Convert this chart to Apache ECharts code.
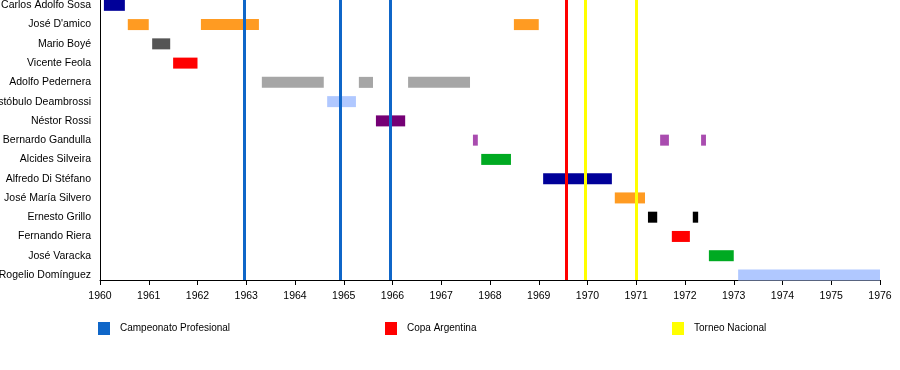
<!DOCTYPE html>
<html>
<head>
<meta charset="utf-8">
<script src="https://cdn.jsdelivr.net/npm/echarts@6/dist/echarts.min.js"></script>
<style>html,body{margin:0;padding:0;background:#fff}#c{width:900px;height:370px}</style>
</head>
<body>
<div id="c"></div>
<script>
// ---- data ----
const people = ["Carlos Adolfo Sosa","José D'amico","Mario Boyé","Vicente Feola","Adolfo Pedernera","Aristóbulo Deambrossi","Néstor Rossi","Bernardo Gandulla","Alcides Silveira","Alfredo Di Stéfano","José María Silvero","Ernesto Grillo","Fernando Riera","José Varacka","Rogelio Domínguez"];
// [person index, start, end]
const periods = [
  [0, 1960.08, 1960.51],
  [1, 1960.57, 1961.00],
  [1, 1962.07, 1963.26],
  [1, 1968.49, 1969.00],
  [2, 1961.07, 1961.44],
  [3, 1961.50, 1962.00],
  [4, 1963.32, 1964.59],
  [4, 1965.31, 1965.60],
  [4, 1966.32, 1967.59],
  [5, 1964.66, 1965.25],
  [6, 1965.66, 1966.26],
  [7, 1967.65, 1967.75],
  [7, 1971.49, 1971.67],
  [7, 1972.33, 1972.43],
  [8, 1967.82, 1968.43],
  [9, 1969.09, 1970.50],
  [10, 1970.56, 1971.18],
  [11, 1971.24, 1971.43],
  [11, 1972.16, 1972.27],
  [12, 1971.73, 1972.10],
  [13, 1972.49, 1973.00],
  [14, 1973.09, 1976.00]
];
const campeonatoProfesional = [1962.96, 1964.92, 1965.95];
const copaArgentina = [1969.56];
const torneoNacional = [1969.96, 1970.99];
const yearMin = 1960, yearMax = 1976;

// ---- styles ----
const personColors = ["#000099","#FF9B22","#555555","#FF0000","#A6A6A6","#B0C8FF","#750075","#A94CAF","#00AA22","#000099","#FF9B22","#000000","#FF0000","#00AA22","#B0C8FF"];
const lineColors = {cp: "#0F66C8", ca: "#FF0000", tn: "#FFFF00"};
const font = "Liberation Sans, Arial, sans-serif";

const chart = echarts.init(document.getElementById('c'), null, {renderer: 'canvas'});

function vline(name, values, color) {
  return {
    name: name, type: 'line', xAxisIndex: 0, yAxisIndex: 0, data: [],
    z: 10, silent: true,
    itemStyle: {color: color}, lineStyle: {color: color},
    markLine: {
      symbol: 'none', silent: true, animation: false,
      label: {show: false},
      lineStyle: {color: color, width: 3, type: 'solid'},
      data: values.map(v => ({xAxis: v}))
    }
  };
}

function legendAt(name, left) {
  return {
    data: [name], left: left, top: 317, icon: 'rect',
    itemWidth: 12, itemHeight: 13, selectedMode: false,
    textStyle: {fontSize: 10, color: '#000', fontFamily: font, padding: [4,0,0,5]}
  };
}

chart.setOption({
  animation: false,
  backgroundColor: '#fff',
  grid: [
    {left: 100, right: 20, top: 0, height: 280, containLabel: false, outerBoundsMode: 'none'},
    {left: 100, right: 20, top: -4.3, height: 288.9, containLabel: false, outerBoundsMode: 'none'}
  ],
  xAxis: [
    {gridIndex: 0, type: 'value', min: yearMin, max: yearMax, interval: 1,
     axisLine: {show: true, lineStyle: {color: '#000', width: 1}},
     axisTick: {show: true, length: 5, lineStyle: {color: '#000'}},
     axisLabel: {fontSize: 10.5, color: '#000', fontFamily: font, margin: 11, formatter: v => String(v)},
     splitLine: {show: false}},
    {gridIndex: 1, type: 'value', min: yearMin, max: yearMax, show: false, splitLine: {show: false}}
  ],
  yAxis: [
    {gridIndex: 0, type: 'value', min: 0, max: 1,
     axisLine: {show: true, lineStyle: {color: '#000', width: 1}},
     axisTick: {show: false}, axisLabel: {show: false}, splitLine: {show: false}},
    {gridIndex: 1, type: 'category', data: people, inverse: true,
     axisLine: {show: false}, axisTick: {show: false}, splitLine: {show: false},
     axisLabel: {fontSize: 10.5, color: '#000', fontFamily: font, margin: 9, padding: [2,0,0,0]}}
  ],
  legend: [
    legendAt('Campeonato Profesional', 93),
    legendAt('Copa Argentina', 380),
    legendAt('Torneo Nacional', 667)
  ],
  series: [
    {
      type: 'custom', xAxisIndex: 1, yAxisIndex: 1, z: 2,
      data: periods,
      encode: {x: [1, 2], y: 0},
      renderItem: function (params, api) {
        const row = api.value(0);
        const p0 = api.coord([api.value(1), row]);
        const p1 = api.coord([api.value(2), row]);
        const h = 11;
        return {
          type: 'rect',
          shape: {x: p0[0], y: p0[1] - h / 2, width: p1[0] - p0[0], height: h},
          style: {fill: personColors[row]}
        };
      }
    },
    vline('Campeonato Profesional', campeonatoProfesional, lineColors.cp),
    vline('Copa Argentina', copaArgentina, lineColors.ca),
    vline('Torneo Nacional', torneoNacional, lineColors.tn)
  ]
});
</script>
</body>
</html>
